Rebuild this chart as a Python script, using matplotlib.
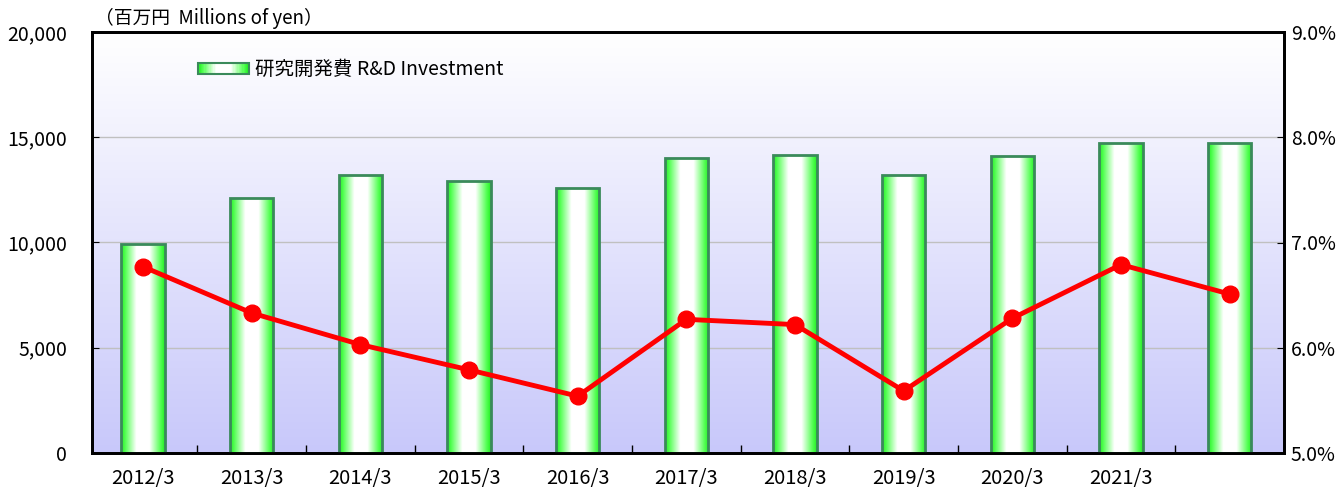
import numpy as np
import matplotlib
matplotlib.use("Agg")
import matplotlib.pyplot as plt
from matplotlib.colors import LinearSegmentedColormap
from matplotlib.legend_handler import HandlerBase
from matplotlib.patches import Rectangle

plt.rcParams['font.family'] = ['Noto Sans CJK JP', 'DejaVu Sans']

# データ
years = ['2012/3', '2013/3', '2014/3', '2015/3', '2016/3', '2017/3',
         '2018/3', '2019/3', '2020/3', '2021/3', '']
rd_invest = [9950, 12100, 13200, 12900, 12600, 14000, 14150, 13200, 14100, 14750, 14750]
rd_ratio = [6.77, 6.33, 6.03, 5.79, 5.54, 6.27, 6.22, 5.59, 6.28, 6.79, 6.51]

green_cmap = LinearSegmentedColormap.from_list(
    'bar', [(0.0, '#22ee22'), (0.1, '#55ff55'), (0.35, '#ffffff'),
            (0.65, '#ffffff'), (0.9, '#55ff55'), (1.0, '#22ee22')])
bg_cmap = LinearSegmentedColormap.from_list('bg', ['#c8c8fa', '#ffffff'])


class GradientHandler(HandlerBase):
    def create_artists(self, legend, orig_handle, xdescent, ydescent,
                       width, height, fontsize, trans):
        n = 40
        arts = []
        y0 = -ydescent + height * 0.1
        h = height * 0.8
        for i in range(n):
            c = green_cmap((i + 0.5) / n)
            r = Rectangle((-xdescent + width * i / n, y0), width / n + 0.3, h,
                          facecolor=c, edgecolor='none', transform=trans)
            arts.append(r)
        edge = Rectangle((-xdescent, y0), width, h, facecolor='none',
                         edgecolor='#3a8a5a', linewidth=1.5, transform=trans)
        arts.append(edge)
        return arts


fig = plt.figure(figsize=(13.44, 4.88), dpi=100)
ax = fig.add_axes([92 / 1344, 1 - 453 / 488, (1284 - 92) / 1344, (453 - 32) / 488])

x = np.arange(len(years))
ax.set_xlim(-0.47, 10.5)
ax.set_ylim(0, 20000)

# 背景グラデーション
bg = np.linspace(0, 1, 256).reshape(-1, 1)
ax.imshow(bg, cmap=bg_cmap, aspect='auto', extent=[0, 1, 0, 1],
          transform=ax.transAxes, origin='lower', zorder=0)

for yv in [5000, 10000, 15000]:
    ax.axhline(yv, color='#c0c0c0', linewidth=1, zorder=1)

# 棒グラフ (グラデーション)
w = 0.4
grad = np.linspace(0, 1, 256).reshape(1, -1)
bars = ax.bar(x, rd_invest, width=w, facecolor='none', edgecolor='#3a8a5a',
              linewidth=2, zorder=3, label='研究開発費 R&D Investment')
for b in bars:
    im = ax.imshow(grad, cmap=green_cmap, aspect='auto',
                   extent=[b.get_x(), b.get_x() + b.get_width(), 0, b.get_height()],
                   zorder=2)
    im.set_clip_path(b)

ax.set_xticks(x)
ax.set_xticklabels(years, fontsize=14.5)
ax.set_xticks(x[:-1] + 0.5, minor=True)
ax.tick_params(axis='x', which='major', length=0, pad=11)
ax.tick_params(axis='x', which='minor', length=6, direction='in', width=1)
ax.set_yticks([0, 5000, 10000, 15000, 20000])
ax.set_yticklabels(['0', '5,000', '10,000', '15,000', '20,000'], fontsize=14)
ax.tick_params(axis='y', length=5, direction='in', pad=18)
for s in ax.spines.values():
    s.set_linewidth(2)

# 比率 (右軸)
ax2 = ax.twinx()
ax2.plot(x, rd_ratio, color='#ff0000', linewidth=3.5, marker='o',
         markersize=12, zorder=5)
ax2.set_ylim(5, 9)
ax2.set_yticks([5, 6, 7, 8, 9])
ax2.set_yticklabels(['5.0%', '6.0%', '7.0%', '8.0%', '9.0%'], fontsize=14)
ax2.tick_params(axis='y', length=5, direction='in', pad=5)
for s in ax2.spines.values():
    s.set_linewidth(2)

ax.legend(handles=[bars], handler_map={type(bars): GradientHandler()},
          loc='center left', bbox_to_anchor=(0.089, 0.91), frameon=False,
          fontsize=14, handlelength=2.6, handletextpad=0.35,
          borderpad=0, borderaxespad=0)

fig.text(95 / 1344, 1 - 18 / 488, '（百万円  Millions of yen）', fontsize=13.5,
         va='center', ha='left')

fig.savefig('out.png', dpi=100)
